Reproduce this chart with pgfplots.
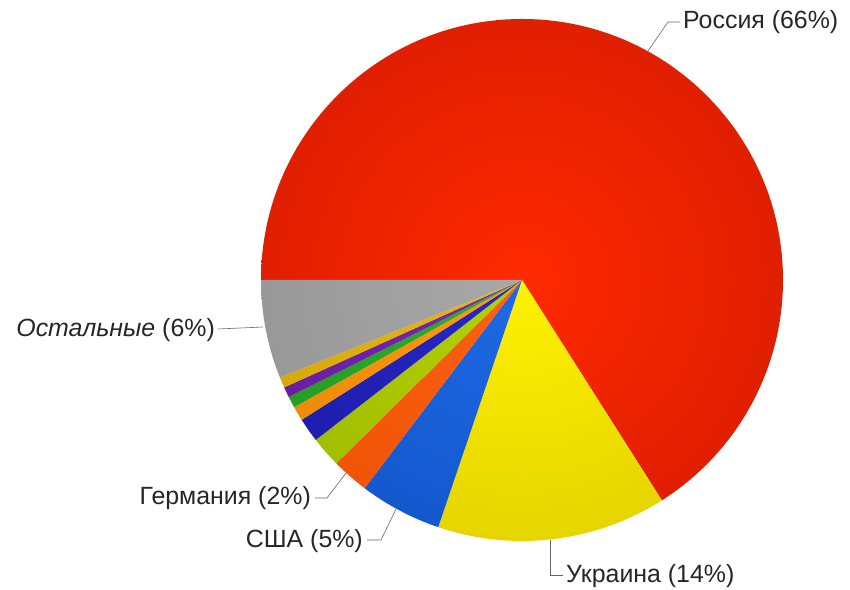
\documentclass[border=0pt]{standalone}
\usepackage{pgfplots}
\pgfplotsset{compat=1.18}
\usepackage{pgfplotstable}
\usepackage{fontspec}
\setmainfont{Liberation Sans}

% inner (centre) and outer (edge) colours of each slice
\definecolor{ci0}{HTML}{FF2A00}\definecolor{co0}{HTML}{C01200}
\definecolor{ci1}{HTML}{FFF200}\definecolor{co1}{HTML}{CDB800}
\definecolor{ci2}{HTML}{1E6AE6}\definecolor{co2}{HTML}{0A46B4}
\definecolor{ci3}{HTML}{FF6010}\definecolor{co3}{HTML}{E04A00}
\definecolor{ci4}{HTML}{B4D200}\definecolor{co4}{HTML}{90AA00}
\definecolor{ci5}{HTML}{2828C8}\definecolor{co5}{HTML}{141496}
\definecolor{ci6}{HTML}{FF9A10}\definecolor{co6}{HTML}{DC7C00}
\definecolor{ci7}{HTML}{30B030}\definecolor{co7}{HTML}{188C18}
\definecolor{ci8}{HTML}{7828B4}\definecolor{co8}{HTML}{5A1490}
\definecolor{ci9}{HTML}{E6B814}\definecolor{co9}{HTML}{C89C00}
\definecolor{ci10}{HTML}{A8A8A8}\definecolor{co10}{HTML}{8A8A8A}

\pgfplotstableread{
slice value
Russia   66.0
Ukraine  14.2
USA      5.1
Germany  2.3
s4       1.9
s5       1.5
s6       0.9
s7       0.7
s8       0.65
s9       0.65
Others   6.1
}\piedata

\begin{document}
\begin{tikzpicture}
\begin{axis}[
  scale only axis, width=850bp, height=590bp,
  xmin=0, xmax=850, ymin=0, ymax=590,
  hide axis, clip=false,
]
\pgfplotstablegetrowsof{\piedata}
\pgfmathtruncatemacro\lastrow{\pgfplotsretval-1}
\def\cum{0}
\pgfplotsforeachungrouped \i in {0,...,\lastrow}{%
  \pgfplotstablegetelem{\i}{value}\of\piedata
  \let\v\pgfplotsretval
  \pgfmathsetmacro\sa{180-3.6*\cum}%
  \pgfmathsetmacro\cum{\cum+\v}%
  \pgfmathsetmacro\ea{180-3.6*\cum}%
  \edef\temp{%
    \noexpand\begin{scope}
    \noexpand\clip (axis cs:522,310) -- ++(\sa:261bp) arc[start angle=\sa, end angle=\ea, radius=261bp] -- cycle;
    \noexpand\shade[inner color=ci\i, outer color=co\i] (axis cs:522,310) circle[radius=522bp];
    \noexpand\end{scope}
  }%
  \temp
}

% leader lines
\draw[gray!80!black, line width=0.6pt] (axis cs:648,539) -- (axis cs:668,568) -- (axis cs:680,568);
\draw[gray!80!black, line width=0.6pt] (axis cs:550,50) -- (axis cs:550,15) -- (axis cs:563,15);
\draw[gray!80!black, line width=0.6pt] (axis cs:396,81) -- (axis cs:381,50) -- (axis cs:367,50);
\draw[gray!80!black, line width=0.6pt] (axis cs:346,117) -- (axis cs:327,92) -- (axis cs:315,92);
\draw[gray!80!black, line width=0.6pt] (axis cs:263,263) -- (axis cs:218,261);

% labels
\begin{scope}[every node/.style={font=\fontsize{25}{29}\selectfont, text=black!85, inner sep=1pt}]
\node[anchor=west] at (axis cs:682,568) {Россия (66\%)};
\node[anchor=west] at (axis cs:565,14) {Украина (14\%)};
\node[anchor=east] at (axis cs:364,49) {США (5\%)};
\node[anchor=east] at (axis cs:312,92) {Германия (2\%)};
\node[anchor=east] at (axis cs:216,260) {\textit{Остальные} (6\%)};
\end{scope}
\end{axis}
\pgfresetboundingbox
\path (current axis.south west) rectangle (current axis.north east);
\end{tikzpicture}
\end{document}
